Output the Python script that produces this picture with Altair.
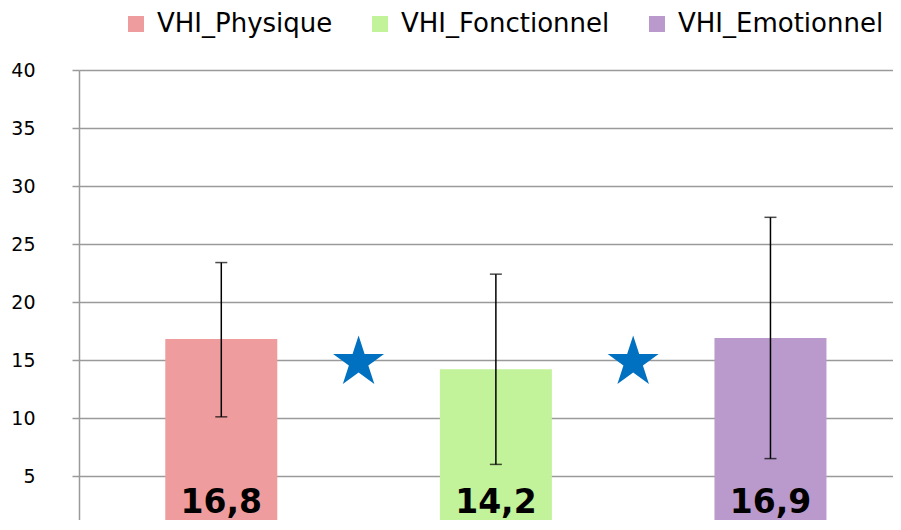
import altair as alt
import pandas as pd

# ---- data ----
categories = ["VHI_Physique", "VHI_Fonctionnel", "VHI_Emotionnel"]
means = [16.8, 14.2, 16.9]
err_low = [10.1, 6.0, 6.5]
err_high = [23.4, 22.4, 27.3]
positions = [0.5, 1.5, 2.5]
colors = ["#EF9C9E", "#C2F29A", "#BA9ACC"]
star_x = [1.0, 2.0]
star_y = [14.8, 14.8]
y_ticks = [5, 10, 15, 20, 25, 30, 35, 40]
label_y = 1.8

df = pd.DataFrame({
    "cat": categories,
    "mean": means,
    "lo": err_low,
    "hi": err_high,
    "pos": positions,
    "label": [f"{v:.1f}".replace(".", ",") for v in means],
    "label_y": [label_y] * len(means),
})
stars = pd.DataFrame({"x": star_x, "y": star_y})

W, H = 814, 450
PX_PER_CAT = 278
PX_PER_UNIT = 11.6
X_DOMAIN = [0, W / PX_PER_CAT]
Y_DOMAIN = [40 - H / PX_PER_UNIT, 40]

STAR = ("M0,-1L0.2245,-0.309L0.951,-0.309L0.363,0.118L0.588,0.809L0,0.382"
        "L-0.588,0.809L-0.363,0.118L-0.951,-0.309L-0.2245,-0.309Z")

FONT = "DejaVu Sans"
GRID = "#9A9A9A"

xs = alt.Scale(domain=X_DOMAIN, nice=False, zero=False)
ys = alt.Scale(domain=Y_DOMAIN, nice=False, zero=False)

base = alt.Chart(df)

bars = base.mark_bar(size=112, clip=True).encode(
    x=alt.X("pos:Q", scale=xs, axis=None),
    y=alt.Y("mean:Q", scale=ys, title=None,
            axis=alt.Axis(values=y_ticks, grid=True, gridColor=GRID, gridWidth=1.5,
                          domainColor=GRID, domainWidth=1.5, tickColor=GRID,
                          tickSize=7, tickWidth=1.5, labelFont=FONT, labelFontSize=19,
                          labelColor="black", labelPadding=37)),
    y2=alt.datum(0),
    color=alt.Color("cat:N", scale=alt.Scale(domain=categories, range=colors),
                    legend=alt.Legend(orient="none", legendX=44, legendY=-59,
                                      direction="horizontal", title=None,
                                      symbolType="square", symbolSize=256,
                                      symbolStrokeWidth=0, symbolOpacity=1,
                                      labelFont=FONT, labelFontSize=26,
                                      labelColor="black", columnPadding=34,
                                      labelOffset=8, labelLimit=0)),
)

rules = base.mark_rule(color="black", strokeWidth=1.5).encode(
    x=alt.X("pos:Q", scale=xs), y=alt.Y("lo:Q", scale=ys), y2="hi:Q"
)
cap_lo = base.mark_tick(orient="horizontal", size=12, thickness=1.5, color="black").encode(
    x=alt.X("pos:Q", scale=xs), y=alt.Y("lo:Q", scale=ys)
)
cap_hi = base.mark_tick(orient="horizontal", size=12, thickness=1.5, color="black").encode(
    x=alt.X("pos:Q", scale=xs), y=alt.Y("hi:Q", scale=ys)
)

labels = base.mark_text(font=FONT, fontSize=33, fontWeight="bold", color="black",
                        baseline="alphabetic", align="center").encode(
    x=alt.X("pos:Q", scale=xs), y=alt.Y("label_y:Q", scale=ys), text="label:N"
)

star_marks = alt.Chart(stars).mark_point(shape=STAR, filled=True, size=2875,
                                         color="#0070C0", opacity=1, strokeWidth=0).encode(
    x=alt.X("x:Q", scale=xs), y=alt.Y("y:Q", scale=ys)
)

chart = alt.layer(bars, rules, cap_lo, cap_hi, labels, star_marks).properties(
    width=W, height=H,
    autosize=alt.AutoSizeParams(type="none"),
    padding={"left": 71, "top": 62, "right": 0, "bottom": 0},
).configure_view(stroke=None)

chart.save("out.html", embed_options={"renderer": "svg", "actions": False})
